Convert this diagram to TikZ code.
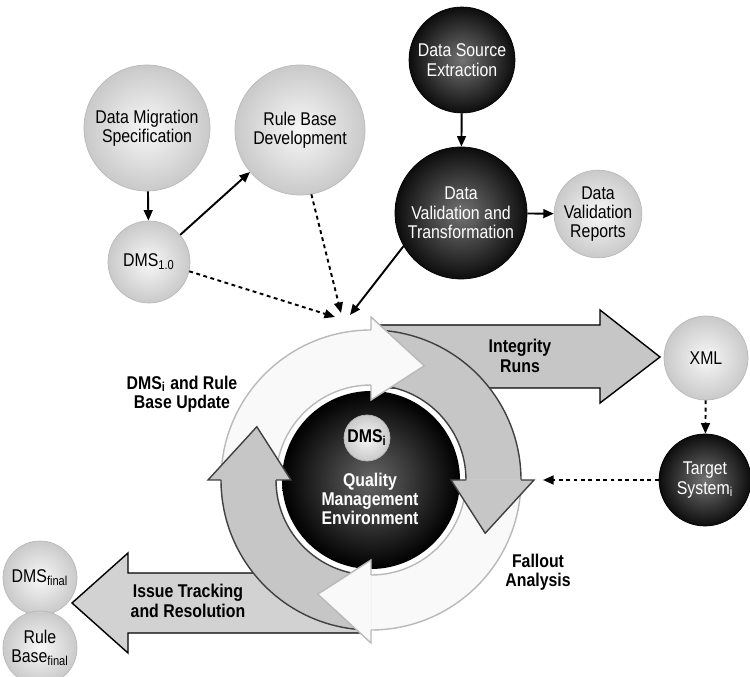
\documentclass[tikz,border=0pt]{standalone}
\usepackage{fontspec}
\setmainfont{Liberation Sans}[FakeStretch=0.86]
\usepackage{tikz}
\usetikzlibrary{arrows.meta}
\newcommand{\cfont}{\fontsize{10.5}{11}\selectfont}

\begin{document}
\begin{tikzpicture}[x=0.02cm, y=0.02cm, >={Triangle[length=6pt,width=5pt]},
  lite/.style  = {circle, inner color=gray!6, outer color=gray!42, draw=gray!55,
                  inner sep=0pt, align=center, font=\cfont},
  dark/.style  = {circle, inner color=black!55, outer color=black!95, draw=black,
                  inner sep=0pt, align=center, font=\cfont, text=white},
  lbl/.style   = {font=\cfont\bfseries, align=center},
  link/.style  = {->, line width=1.1pt},
  dlink/.style = {->, line width=1.1pt, dash pattern=on 2.2pt off 2pt}
]
  \useasboundingbox (0,0) rectangle (750,676);

  %% Flow arrows behind the cycle
  \draw[fill=gray!45, line width=0.8pt]
    (380,351) -- (600,351) -- (600,366) -- (660,319) -- (600,273)
    -- (600,288) -- (380,288) -- cycle;
  \draw[fill=gray!35, line width=0.8pt]
    (365,103) -- (128,103) -- (128,123) -- (72,73) -- (128,23)
    -- (128,43) -- (365,43) -- cycle;

  %% Cycle
  \coordinate (c) at (371,196);
  \shade[inner color=black!60, outer color=black] (c) circle (89);
  \begin{scope}[shift={(c)}]
    \foreach \a/\f/\l in {180/gray!5/gray!55, 90/gray!45/black!75,
                          0/gray!5/gray!55, -90/gray!45/black!75} {
      \fill[\f] (\a:95) arc[start angle=\a, end angle=\a-90, radius=95]
        -- ({\a-90}:150) arc[start angle=\a-90, end angle=\a, radius=150] -- cycle;
      \draw[\l, line width=0.8pt]
        (\a:150) arc[start angle=\a, end angle=\a-90, radius=150];
      \draw[\l, line width=0.8pt]
        (\a:95) arc[start angle=\a, end angle=\a-90, radius=95];
    }
    \foreach \b/\f/\l in {90/gray!5/gray!55, 0/gray!45/black!75,
                          -90/gray!5/gray!55, 180/gray!45/black!75} {
      \fill[\f] (\b:80) -- ({\b-25}:126) -- (\b:163) -- cycle;
      \draw[\l, line width=0.8pt]
        (\b:95) -- (\b:80) -- ({\b-25}:126) -- (\b:163) -- (\b:150);
    }
  \end{scope}
  \node[lite, minimum size=0.92cm, font=\cfont\bfseries] (dmsi) at (367,238)
    {DMS\textsubscript{i}};
  \node[lbl, text=white] (qme) at (370,177) {Quality\\Management\\Environment};

  %% Circles
  \node[lite, minimum size=2.52cm] (spec) at (147,548) {Data Migration\\Specification};
  \node[lite, minimum size=2.60cm] (rule) at (300,546) {Rule Base\\Development};
  \node[lite, minimum size=1.64cm] (dmsa) at (149,414) {DMS\textsubscript{1.0}};
  \node[dark, minimum size=2.12cm] (dse)  at (462,616) {Data Source\\Extraction};
  \node[dark, minimum size=2.64cm] (dvt)  at (461,463) {Data\\Validation and\\Transformation};
  \node[lite, minimum size=1.52cm] (dvr)  at (598,462) {Data\\Validation\\Reports};
  \node[lite, minimum size=1.68cm] (xml)  at (706,318) {XML};
  \node[dark, minimum size=1.84cm] (tgt)  at (705,196) {Target\\System\textsubscript{i}};
  \node[lite, minimum size=1.48cm] (dmsf) at (40,98)  {DMS\textsubscript{final}};
  \node[lite, minimum size=1.48cm] (rbf)  at (40,28)  {Rule\\Base\textsubscript{final}};

  %% Labels
  \node[lbl] (upd)   at (182,282) {DMS\textsubscript{i} and Rule\\Base Update};
  \node[lbl] (integ) at (520,320) {Integrity\\Runs};
  \node[lbl] (fall)  at (538,104) {Fallout\\Analysis};
  \node[lbl] (issue) at (188,75)  {Issue Tracking\\and Resolution};

  %% Connectors
  \coordinate (inA) at (335,359);
  \coordinate (inB) at (341,363);
  \coordinate (inC) at (350,361);
  \coordinate (inD) at (543,196);
  \draw[link]  (spec) -- (dmsa);
  \draw[link]  (dmsa.41) -- (rule.220);
  \draw[link]  (dse) -- (dvt);
  \draw[link]  (dvt) -- (dvr);
  \draw[dlink] (dmsa.-13) -- (inA);
  \draw[dlink] (rule.-80) -- (inB);
  \draw[link]  (dvt.210) -- (inC);
  \draw[dlink] (xml) -- (tgt);
  \draw[dlink] (tgt) -- (inD);
\end{tikzpicture}
\end{document}
